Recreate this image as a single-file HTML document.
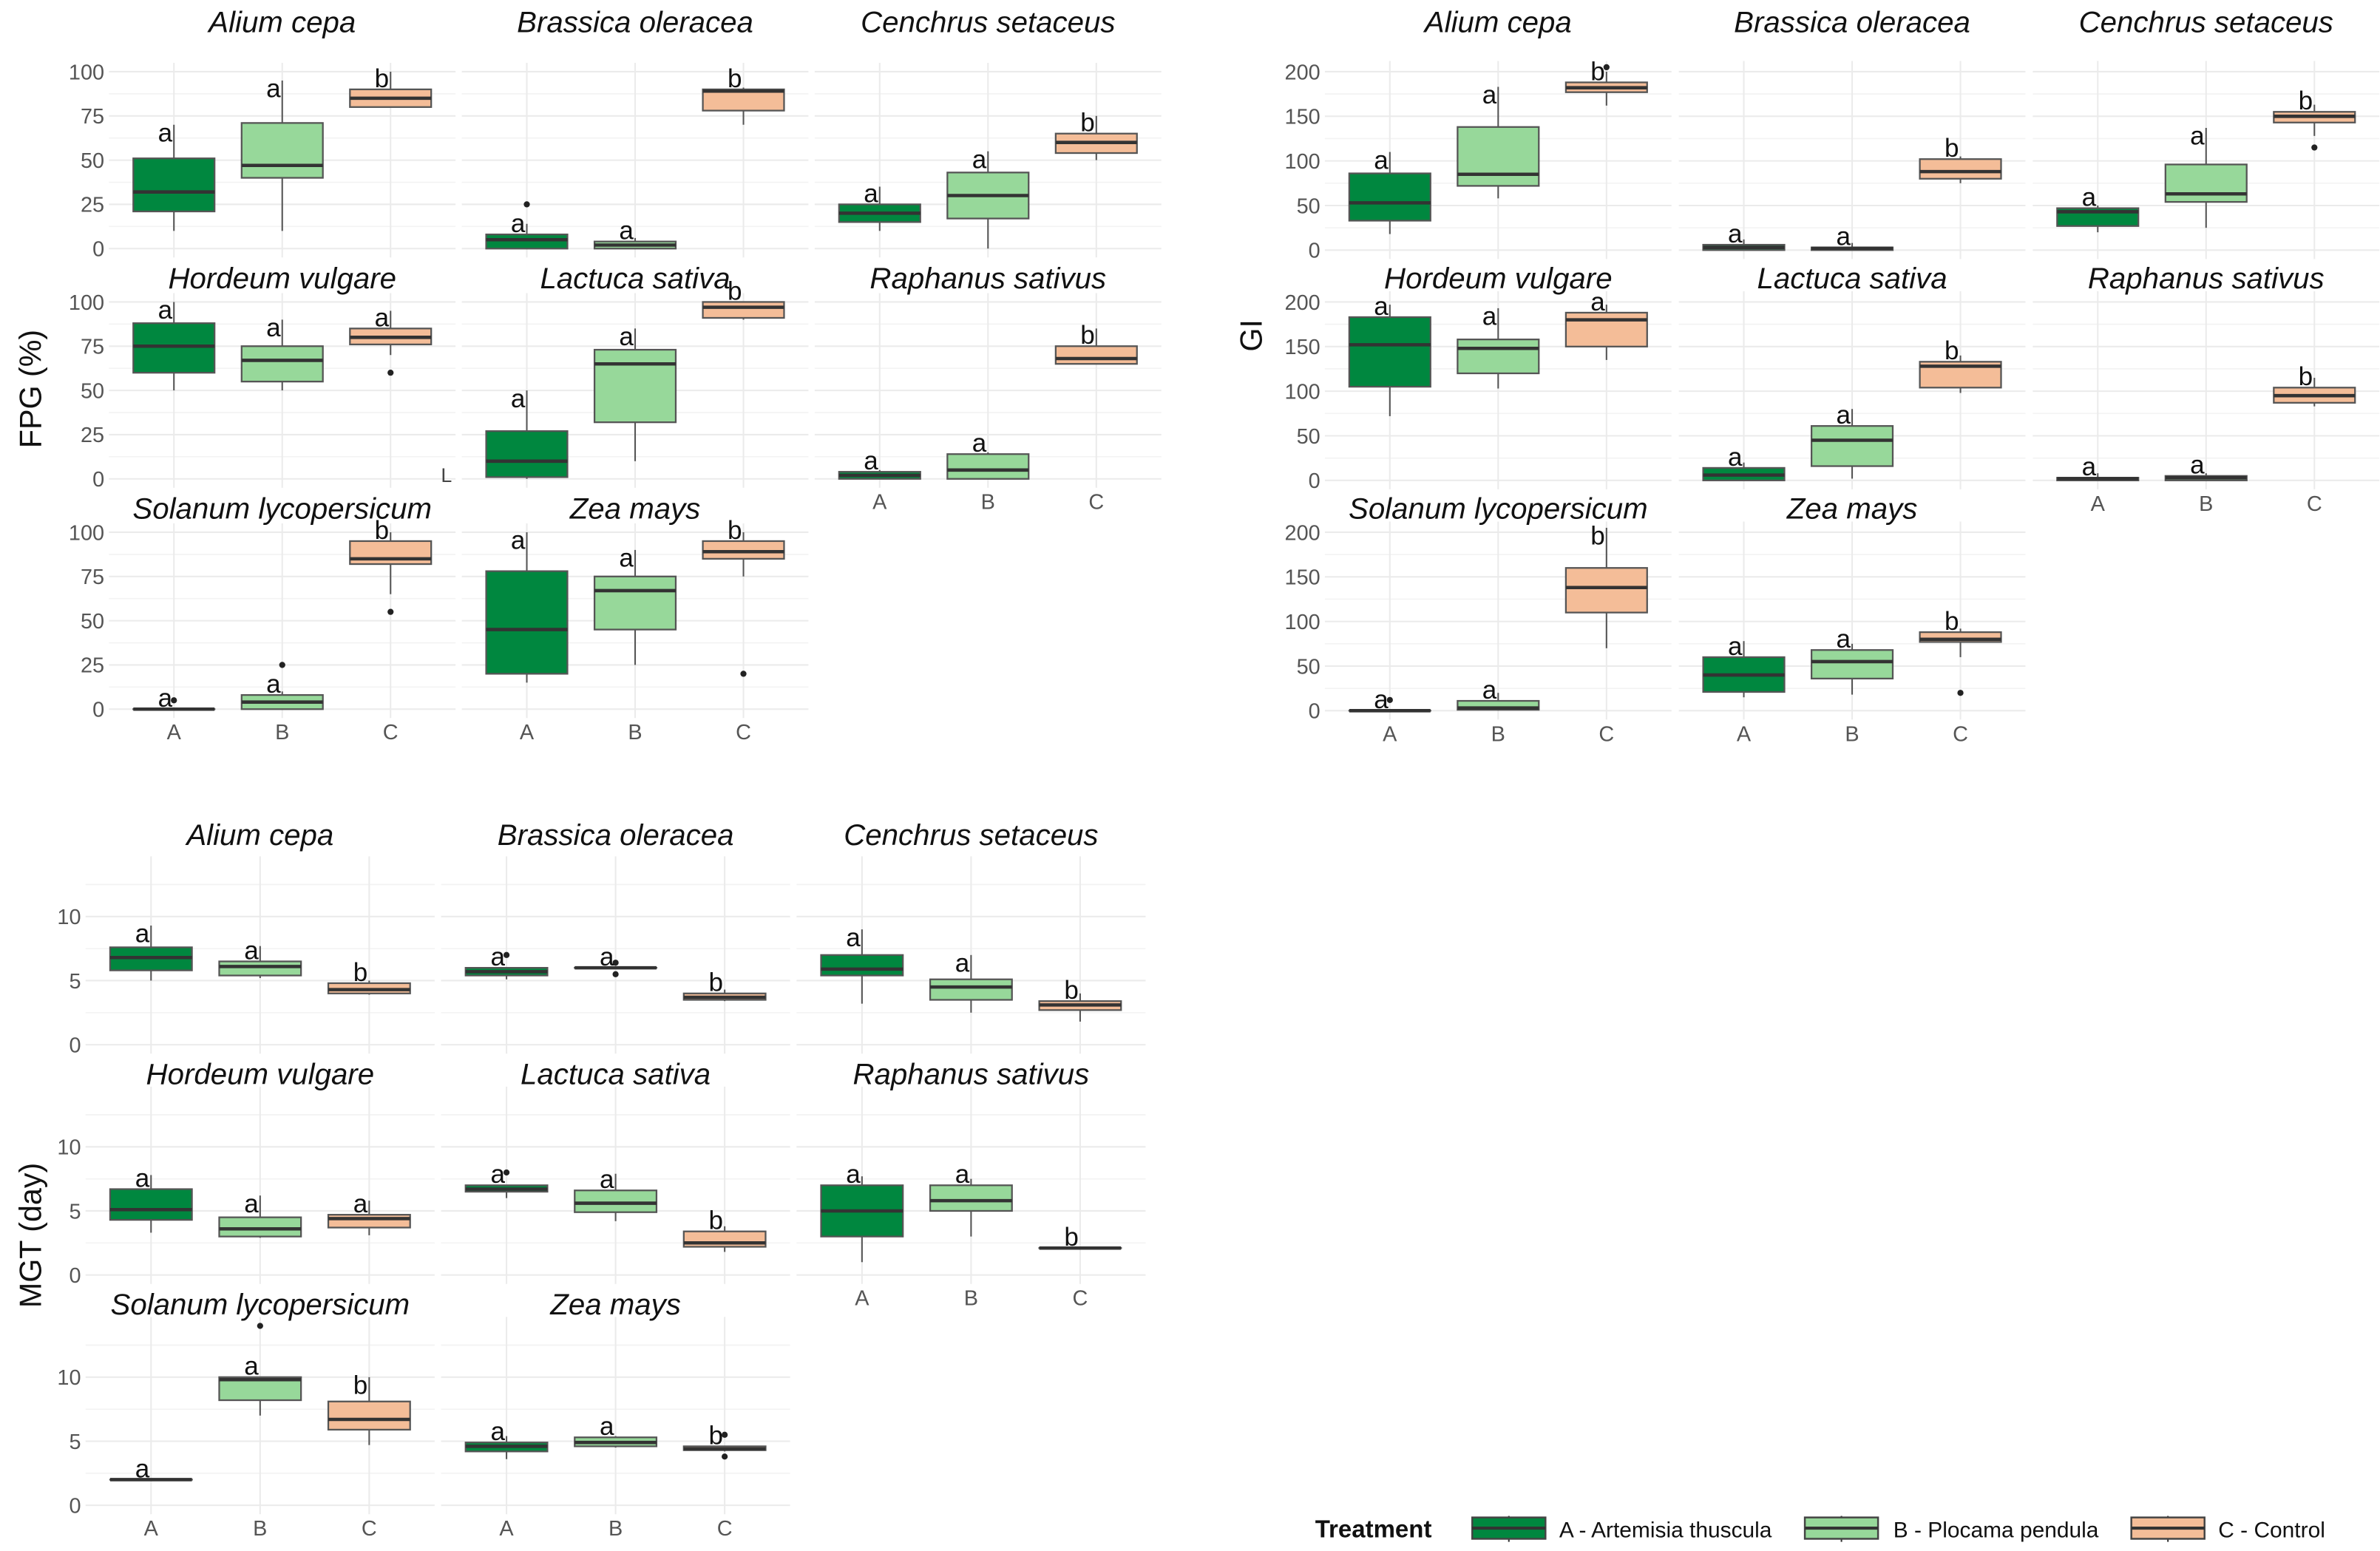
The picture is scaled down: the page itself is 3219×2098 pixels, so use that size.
<!DOCTYPE html>
<html><head><meta charset="utf-8">
<style>
html,body{margin:0;padding:0;background:#fff;}
svg{display:block;}
text{font-family:"Liberation Sans",sans-serif;}
</style></head>
<body>
<svg id="chart" xmlns="http://www.w3.org/2000/svg" width="3219" height="2098" viewBox="0 0 1560 1017" preserveAspectRatio="none">
<rect width="1560" height="1017" fill="#fff"/>
<g id="layer"></g>
<text x="289" y="316" font-size="13" fill="#444">L</text>
<text transform="translate(27,255) rotate(-90)" font-size="20" fill="#111" text-anchor="middle">FPG (%)</text>
<text transform="translate(827,220) rotate(-90)" font-size="20" fill="#111" text-anchor="middle">GI</text>
<text transform="translate(27,810) rotate(-90)" font-size="20" fill="#111" text-anchor="middle">MGT (day)</text>
<g>
<text x="862" y="1008" font-size="16" font-weight="bold" fill="#111">Treatment</text>
<g>
<line x1="989" y1="994" x2="989" y2="1011" stroke="#333"/><rect x="965" y="995" width="48" height="14" fill="#00873f" stroke="#444" stroke-width="1.2"/><line x1="965" y1="1002" x2="1013" y2="1002" stroke="#333" stroke-width="2"/>
<text x="1022" y="1008" font-size="14.5" fill="#111">A - Artemisia thuscula</text></g>
<g>
<line x1="1207" y1="994" x2="1207" y2="1011" stroke="#333"/><rect x="1183" y="995" width="48" height="14" fill="#97d89a" stroke="#444" stroke-width="1.2"/><line x1="1183" y1="1002" x2="1231" y2="1002" stroke="#333" stroke-width="2"/>
<text x="1241" y="1008" font-size="14.5" fill="#111">B - Plocama pendula</text></g>
<g>
<line x1="1421" y1="994" x2="1421" y2="1011" stroke="#333"/><rect x="1397" y="995" width="48" height="14" fill="#f4bd98" stroke="#444" stroke-width="1.2"/><line x1="1397" y1="1002" x2="1445" y2="1002" stroke="#333" stroke-width="2"/>
<text x="1454" y="1008" font-size="14.5" fill="#111">C - Control</text></g>
</g>
</svg>
<script>
const species = ["Alium cepa","Brassica oleracea","Cenchrus setaceus","Hordeum vulgare","Lactuca sativa","Raphanus sativus","Solanum lycopersicum","Zea mays"];
const treatments = ["A","B","C"];
// each species: [ [min,q1,med,q3,max] for A,B,C ]
const fpgStats = [
 [[10,21,32,51,70],[10,40,47,71,95],[80,80,85,90,100]],
 [[0,0,5,8,14],[0,0,2,4,6],[70,78,89,90,91]],
 [[10,15,20,25,35],[0,17,30,43,55],[50,54,60,65,75]],
 [[50,60,75,88,100],[50,55,67,75,90],[70,76,80,85,95]],
 [[0,1,10,27,50],[10,32,65,73,85],[90,91,97,100,100]],
 [[0,0,2,4,5],[0,0,5,14,15],[65,65,68,75,85]],
 [[0,0,0,0,0],[0,0,4,8,10],[65,82,85,95,100]],
 [[15,20,45,78,100],[25,45,67,75,90],[75,85,89,95,100]]
];
const fpgOutliers = [[[],[],[]],[[25],[],[]],[[],[],[]],[[],[],[60]],[[],[],[]],[[],[],[]],[[5],[25],[55]],[[],[],[20]]];
const fpgLetters = [["a","a","b"],["a","a","b"],["a","a","b"],["a","a","a"],["a","a","b"],["a","a","b"],["a","a","b"],["a","a","b"]];
const fpgTicks = [0,25,50,75,100];

const giStats = [
 [[18,33,53,86,110],[58,72,85,138,183],[162,177,182,188,200]],
 [[0,0,3,6,12],[0,0,2,3,8],[75,80,88,102,105]],
 [[20,27,43,47,50],[25,54,63,96,137],[128,143,150,155,163]],
 [[72,105,152,183,197],[103,120,148,158,193],[135,150,180,188,197]],
 [[0,0,6,14,20],[2,16,45,61,80],[98,104,128,133,140]],
 [[0,0,2,3,8],[0,0,3,5,8],[83,87,95,104,115]],
 [[0,0,0,0,0],[0,1,3,11,20],[70,110,138,160,205]],
 [[15,21,40,60,78],[18,36,55,68,75],[60,77,80,88,92]]
];
const giOutliers = [[[],[],[205]],[[],[],[]],[[],[],[115]],[[],[],[]],[[],[],[]],[[],[],[]],[[12],[],[]],[[],[],[20]]];
const giLetters = [["a","a","b"],["a","a","b"],["a","a","b"],["a","a","a"],["a","a","b"],["a","a","b"],["a","a","b"],["a","a","b"]];
const giTicks = [0,50,100,150,200];

const mgtStats = [
 [[5,5.8,6.8,7.6,9.3],[5.2,5.4,6.1,6.5,7.7],[3.9,4,4.3,4.8,5]],
 [[5.1,5.4,5.7,6,6],[6,6,6,6,6],[3.4,3.5,3.7,4,4.3]],
 [[3.2,5.4,5.9,7,9],[2.5,3.5,4.5,5.1,7],[1.8,2.7,3.1,3.4,4]],
 [[3.3,4.3,5.1,6.7,7.8],[2.9,3,3.6,4.5,6.2],[3.1,3.7,4.4,4.7,5.8]],
 [[6,6.5,6.7,7,7],[4.2,4.9,5.6,6.6,7.9],[1.8,2.2,2.5,3.4,3.8]],
 [[1,3,5,7,7.7],[3,5,5.8,7,7.5],[2.1,2.1,2.1,2.1,2.1]],
 [[2,2,2,2,2],[7,8.2,9.8,10,10],[4.7,5.9,6.7,8.1,10]],
 [[3.6,4.2,4.6,4.9,5.4],[4.5,4.6,4.9,5.3,5.4],[4.2,4.3,4.4,4.6,4.6]]
];
const mgtOutliers = [[[],[],[]],[[7],[6.4,5.5],[]],[[],[],[]],[[],[],[]],[[8],[],[]],[[],[],[]],[[],[14],[]],[[],[],[5.5,3.8]]];
const mgtLetters = [["a","a","b"],["a","a","b"],["a","a","b"],["a","a","a"],["a","a","b"],["a","a","b"],["a","a","b"],["a","a","b"]];
const mgtTicks = [0,5,10];

const fills = ["#00873f","#97d89a","#f4bd98"];
const NS = "http://www.w3.org/2000/svg";
const layer = document.getElementById("layer");
function mk(tag, attrs, parent){const e=document.createElementNS(NS,tag);for(const k in attrs)e.setAttribute(k,attrs[k]);(parent||layer).appendChild(e);return e;}

const metrics = [
 {key:"fpg", stats:fpgStats, outs:fpgOutliers, letters:fpgLetters, ticks:fpgTicks, minor:12.5, lo:-5, hi:105,
  ax0:114, colStep:231.3, spacing:71, zero0:163, rowStep:151, unit:1.16, titleY:[21,189,340]},
 {key:"gi", stats:giStats, outs:giOutliers, letters:giLetters, ticks:giTicks, minor:25, lo:-10, hi:212,
  ax0:911, colStep:232, spacing:71, zero0:164, rowStep:151, unit:0.585, titleY:[21,189,340]},
 {key:"mgt", stats:mgtStats, outs:mgtOutliers, letters:mgtLetters, ticks:mgtTicks, minor:2.5, lo:-0.7, hi:14.7,
  ax0:99, colStep:233, spacing:71.5, zero0:685, rowStep:151, unit:8.4, titleY:[554,711,862]}
];

metrics.forEach(m=>{
 species.forEach((sp,i)=>{
  const r=Math.floor(i/3), c=i%3;
  const xA=m.ax0+c*m.colStep;
  const xs=t=>xA+t*m.spacing;
  const zero=m.zero0+r*m.rowStep;
  const ys=v=>zero-v*m.unit;
  const left=xs(0)-0.6*m.spacing, right=xs(2)+0.6*m.spacing;
  const top=ys(m.hi), bot=ys(m.lo);
  const g=mk("g",{});
  
  
  for(let v=m.minor; v<m.hi; v+=m.minor*2){
   const l=mk("line",{x1:left,x2:right,y1:ys(v),y2:ys(v),stroke:"#f3f3f3","stroke-width":0.8},g);
   
   
  }
  m.ticks.forEach(t=>{
   const l=mk("line",{x1:left,x2:right,y1:ys(t),y2:ys(t),stroke:"#ebebeb","stroke-width":1},g);
   
   
   if(c===0){
    const tx=mk("text",{x:left-3,y:ys(t)+5,"font-size":14,fill:"#555","text-anchor":"end"},g);
    tx.textContent=t;
    
    
   }
  });
  treatments.forEach((tr,k)=>{
   const l=mk("line",{x1:xs(k),x2:xs(k),y1:top,y2:bot,stroke:"#ebebeb","stroke-width":1},g);
   
   
  });
  const ti=mk("text",{x:(left+right)/2,y:m.titleY[r],"font-size":19.5,"font-style":"italic",fill:"#111","text-anchor":"middle"},g);
  ti.textContent=sp;
  
  
  const showX = (r===2) || (r===1 && c===2);
  if(showX){
   treatments.forEach((tr,k)=>{
    const tx=mk("text",{x:xs(k),y:bot+14,"font-size":14,fill:"#555","text-anchor":"middle"},g);
    tx.textContent=tr;
    
    
   });
  }
  treatments.forEach((tr,k)=>{
   const s=m.stats[i][k]; const x=xs(k); const hw=0.375*m.spacing;
   const bg=mk("g",{},g);
   
   
   mk("line",{x1:x,x2:x,y1:ys(s[0]),y2:ys(s[1]),stroke:"#555","stroke-width":1},bg);
   mk("line",{x1:x,x2:x,y1:ys(s[3]),y2:ys(s[4]),stroke:"#555","stroke-width":1},bg);
   mk("rect",{x:x-hw,y:ys(s[3]),width:2*hw,height:Math.max(0.01,ys(s[1])-ys(s[3])),fill:fills[k],stroke:"#555","stroke-width":1.1},bg);
   mk("line",{x1:x-hw,x2:x+hw,y1:ys(s[2]),y2:ys(s[2]),stroke:"#333","stroke-width":2.2},bg);
   m.outs[i][k].forEach(o=>{
    const d=mk("circle",{cx:x,cy:ys(o),r:2,fill:"#222"},bg);
    
    
   });
   const base=Math.min(ys(s[4])+11, ys(s[3])-1.5);
   const lt=mk("text",{x:x-1,y:base,"font-size":17,fill:"#111","text-anchor":"end"},g);
   lt.textContent=m.letters[i][k];
   
   
  });
 });
});
</script>
</body></html>
